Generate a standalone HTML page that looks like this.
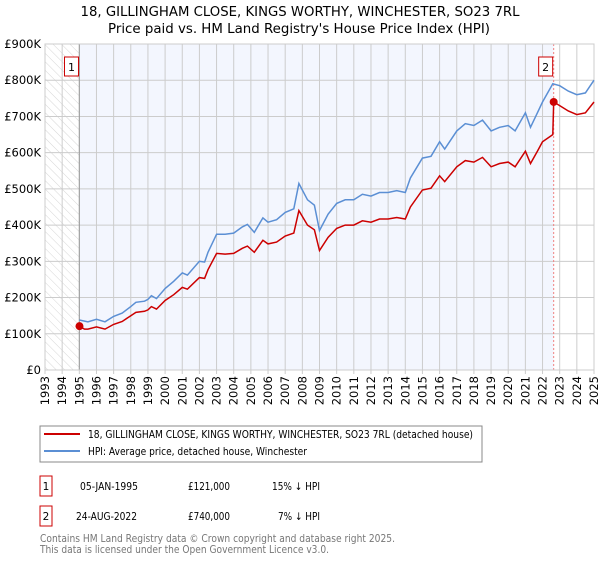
<!DOCTYPE html>
<html><head><meta charset="utf-8"><style>
body{margin:0;background:#fff;font-family:"DejaVu Sans","Liberation Sans",sans-serif;}
svg text{font-family:"DejaVu Sans","Liberation Sans",sans-serif;}
</style></head><body>
<svg id="c" width="600" height="560" xmlns="http://www.w3.org/2000/svg">
<defs><pattern id="hatch" width="6" height="6" patternUnits="userSpaceOnUse" patternTransform="rotate(-45)"><line x1="0" y1="0" x2="0" y2="6" stroke="#ccc" stroke-width="0.8"/></pattern></defs>
<text x="300" y="16" text-anchor="middle" font-size="13" textLength="439" lengthAdjust="spacingAndGlyphs">18, GILLINGHAM CLOSE, KINGS WORTHY, WINCHESTER, SO23 7RL</text>
<text x="299" y="33" text-anchor="middle" font-size="13" textLength="382" lengthAdjust="spacingAndGlyphs">Price paid vs. HM Land Registry's House Price Index (HPI)</text>
<g id="plot"></g>
<g>
<rect x="40" y="426" width="442" height="36" fill="#fff" stroke="#888"/>
<line x1="44" y1="434" x2="80" y2="434" stroke="#cc0000" stroke-width="2"/>
<text x="88" y="438" font-size="10.5" textLength="385" lengthAdjust="spacingAndGlyphs">18, GILLINGHAM CLOSE, KINGS WORTHY, WINCHESTER, SO23 7RL (detached house)</text>
<line x1="44" y1="451" x2="80" y2="451" stroke="#5b8fd4" stroke-width="2"/>
<text x="88" y="455" font-size="10.5" textLength="219" lengthAdjust="spacingAndGlyphs">HPI: Average price, detached house, Winchester</text>
</g>
<g font-size="10.5">
<rect x="40" y="476" width="12" height="20" fill="#fff" stroke="#cc0000"/><text x="46" y="490" text-anchor="middle">1</text>
<text x="80" y="490" textLength="58" lengthAdjust="spacingAndGlyphs">05-JAN-1995</text><text x="188" y="490" textLength="42" lengthAdjust="spacingAndGlyphs">£121,000</text><text x="272" y="490" textLength="48" lengthAdjust="spacingAndGlyphs">15% ↓ HPI</text>
<rect x="40" y="506" width="12" height="20" fill="#fff" stroke="#cc0000"/><text x="46" y="520" text-anchor="middle">2</text>
<text x="76" y="520" textLength="61" lengthAdjust="spacingAndGlyphs">24-AUG-2022</text><text x="188" y="520" textLength="42" lengthAdjust="spacingAndGlyphs">£740,000</text><text x="278" y="520" textLength="42" lengthAdjust="spacingAndGlyphs">7% ↓ HPI</text>
</g>
<text x="40" y="542" font-size="10.5" fill="#777" textLength="355" lengthAdjust="spacingAndGlyphs">Contains HM Land Registry data © Crown copyright and database right 2025.</text>
<text x="40" y="553" font-size="10.5" fill="#777" textLength="289" lengthAdjust="spacingAndGlyphs">This data is licensed under the Open Government Licence v3.0.</text>
</svg>
<script>
const hpiYears=[1995,1995.5,1996,1996.5,1997,1997.5,1998,1998.3,1998.8,1999,1999.2,1999.5,2000,2000.5,2001,2001.3,2002,2002.3,2002.5,2003,2003.5,2004,2004.5,2004.8,2005.2,2005.7,2006,2006.5,2007,2007.5,2007.8,2008.3,2008.7,2009,2009.5,2010,2010.5,2011,2011.5,2012,2012.5,2013,2013.5,2014,2014.3,2015,2015.5,2016,2016.3,2017,2017.5,2018,2018.5,2019,2019.5,2020,2020.4,2021,2021.3,2021.7,2022,2022.6,2023,2023.5,2024,2024.5,2025];
const hpiValues=[138,133,140,133,148,157,175,187,190,195,205,197,225,245,268,262,300,298,325,375,375,378,395,402,380,420,408,415,435,445,515,470,455,385,430,460,470,470,485,480,490,490,495,490,530,585,590,630,610,660,680,675,690,660,670,675,660,710,670,710,740,790,785,770,760,765,800];
const redYears=[1995,1995.3,1995.5,1996,1996.5,1997,1997.5,1998,1998.3,1998.8,1999,1999.2,1999.5,2000,2000.5,2001,2001.3,2002,2002.3,2002.5,2003,2003.5,2004,2004.5,2004.8,2005.2,2005.7,2006,2006.5,2007,2007.5,2007.8,2008.3,2008.7,2009,2009.5,2010,2010.5,2011,2011.5,2012,2012.5,2013,2013.5,2014,2014.3,2015,2015.5,2016,2016.3,2017,2017.5,2018,2018.5,2019,2019.5,2020,2020.4,2021,2021.3,2021.7,2022,2022.6,2022.65,2023,2023.5,2024,2024.5,2025];
const redValues=[121,113,113,119,113,126,134,150,159,162,166,175,168,192,208,228,223,255,253,277,322,320,322,336,342,325,358,348,353,370,378,440,400,387,330,366,391,400,400,412,408,417,417,421,417,450,497,502,536,520,561,578,574,587,561,570,574,561,604,570,604,630,650,740,730,715,705,710,740];
const yTicks=[0,100,200,300,400,500,600,700,800,900];
const yTickLabels=["£0","£100K","£200K","£300K","£400K","£500K","£600K","£700K","£800K","£900K"];
const xTicks=[1993,1994,1995,1996,1997,1998,1999,2000,2001,2002,2003,2004,2005,2006,2007,2008,2009,2010,2011,2012,2013,2014,2015,2016,2017,2018,2019,2020,2021,2022,2023,2024,2025];
const sales=[{n:"1",year:1995.01,value:121},{n:"2",year:2022.65,value:740}];

const X0=45,X1=594,Y0=370,Y1=44;
const xs=y=>X0+(y-1993)/(2025-1993)*(X1-X0);
const ys=v=>Y0-v/900*(Y0-Y1);
const NS="http://www.w3.org/2000/svg";
const g=document.getElementById('plot');
function mk(t,a){const e=document.createElementNS(NS,t);for(const k in a)e.setAttribute(k,a[k]);g.appendChild(e);return e;}
let e;
e=mk('rect',{x:X0,y:Y1,width:X1-X0,height:Y0-Y1,fill:'#fff'});


e=mk('rect',{x:xs(1995),y:Y1,width:xs(sales[1].year)-xs(1995),height:Y0-Y1,fill:'#f3f6fe'});


e=mk('rect',{x:X0,y:Y1,width:xs(1995)-X0,height:Y0-Y1,fill:'url(#hatch)'});


yTicks.forEach((v,i)=>{
 e=mk('line',{x1:X0,x2:X1,y1:ys(v),y2:ys(v),stroke:'#ccc','stroke-width':1});
 
 
 e=mk('text',{x:X0-4,y:ys(v)+4,'text-anchor':'end','font-size':'11.5'});e.textContent=yTickLabels[i];
 
 
});
xTicks.forEach(y=>{
 e=mk('line',{x1:xs(y),x2:xs(y),y1:Y1,y2:Y0+4,stroke:'#ccc','stroke-width':1});
 
 
 const x=xs(y)+4;
 e=mk('text',{x:x,y:Y0+6,'text-anchor':'end','font-size':'11.5',transform:`rotate(-90 ${x} ${Y0+6})`});e.textContent=y;
 
 
});
e=mk('line',{x1:xs(1995),x2:xs(1995),y1:Y1,y2:Y0,stroke:'#999','stroke-width':1});


e=mk('line',{x1:xs(sales[1].year),x2:xs(sales[1].year),y1:Y1,y2:Y0,stroke:'#f08080','stroke-width':1,'stroke-dasharray':'2,2'});


e=mk('rect',{x:X0,y:Y1,width:X1-X0,height:Y0-Y1,fill:'none',stroke:'#ccc'});


function pts(xa,va){return xa.map((y,i)=>xs(y).toFixed(1)+','+ys(va[i]).toFixed(1)).join(' ');}
e=mk('polyline',{points:pts(hpiYears,hpiValues),fill:'none',stroke:'#5b8fd4','stroke-width':1.5});


e=mk('polyline',{points:pts(redYears,redValues),fill:'none',stroke:'#cc0000','stroke-width':1.5});


sales.forEach(s=>{
 e=mk('circle',{cx:xs(s.year),cy:ys(s.value),r:4,fill:'#cc0000'});
 
 
 e=mk('rect',{x:xs(s.year)-15,y:Y1+13,width:14,height:19,fill:'#fff',stroke:'#cc0000'});
 
 
 e=mk('text',{x:xs(s.year)-8,y:Y1+27,'text-anchor':'middle','font-size':'11'});e.textContent=s.n;
 
 
});
</script>
</body></html>
